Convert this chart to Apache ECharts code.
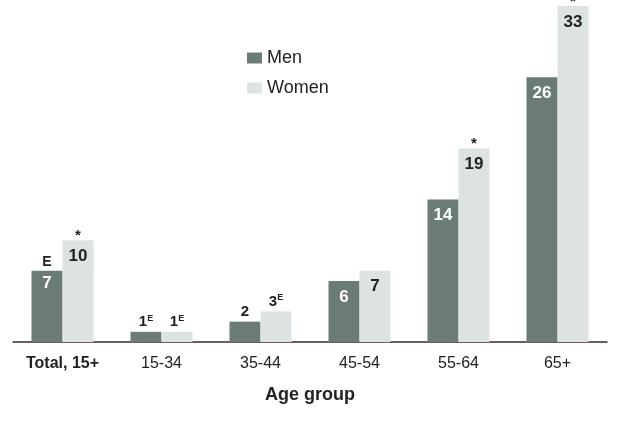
<!DOCTYPE html>
<html><head><meta charset="utf-8">
<script src="https://cdn.jsdelivr.net/npm/echarts@6/dist/echarts.min.js"></script>
<style>html,body{margin:0;padding:0;background:#fff}#c{width:620px;height:430px}</style>
</head><body><div id="c"></div>
<script>
const categories = ['Total, 15+', '15-34', '35-44', '45-54', '55-64', '65+'];
const menValues = [7, 1, 2, 6, 14, 26];
const womenValues = [10, 1, 3, 7, 19, 33];
// quality flags: 'E' = use with caution, '*' = significantly different from men
const menFlags = ['E', 'E', '', '', '', ''];
const womenFlags = ['*', 'E', 'E', '', '*', '*'];

const FONT = "'Liberation Sans', Arial, sans-serif";
const MEN_COLOR = '#6b7b78';
const WOMEN_COLOR = '#dde3e3';
const DARK = '#222';
const SMALL = 4;

const rich = {
  w: { color: '#fff', fontSize: 17, fontWeight: 'bold', lineHeight: 22, fontFamily: FONT },
  d: { color: DARK, fontSize: 17, fontWeight: 'bold', lineHeight: 22, fontFamily: FONT },
  n: { color: DARK, fontSize: 14, fontWeight: 'bold', lineHeight: 22, fontFamily: FONT },
  st: { color: DARK, fontSize: 15, fontWeight: 'bold', lineHeight: 22, padding: [3, 0, 0, 0], fontFamily: FONT },
  sv: { color: DARK, fontSize: 15, fontWeight: 'bold', lineHeight: 16, fontFamily: FONT },
  s: { color: DARK, fontSize: 9, fontWeight: 'bold', lineHeight: 10, verticalAlign: 'top', fontFamily: FONT }
};

function buildItems(values, flags, vs) {
  return values.map((v, i) => {
    const f = flags[i];
    if (v < SMALL) {
      const txt = '{sv|' + v + '}' + (f ? '{s|' + f + '}' : '');
      return { value: v, label: { show: true, position: 'top', distance: 2, formatter: txt, rich } };
    }
    if (f) {
      const top = f === '*' ? '{st|*}' : '{n|E}';
      return { value: v, label: { show: true, position: 'insideTop', distance: 0, offset: [0, f === '*' ? -17 : -20], formatter: top + '\n{' + vs + '|' + v + '}', rich } };
    }
    return { value: v, label: { show: true, position: 'insideTop', distance: 5, formatter: '{' + vs + '|' + v + '}', rich } };
  });
}

const chart = echarts.init(document.getElementById('c'), null, { renderer: 'canvas' });
chart.setOption({
  animation: false,
  textStyle: { fontFamily: FONT },
  legend: {
    orient: 'vertical', left: 242, top: 44, itemGap: 12,
    itemWidth: 15, itemHeight: 11, icon: 'rect',
    textStyle: { fontSize: 18, color: DARK, fontFamily: FONT },
    data: ['Men', 'Women']
  },
  grid: { left: 13, right: 13, top: 0, bottom: 88 },
  xAxis: {
    type: 'category', data: categories,
    axisLine: { lineStyle: { color: '#3d2b26', width: 1.5 } },
    axisTick: { show: false },
    axisLabel: {
      interval: 0,
      fontSize: 16, color: DARK, margin: 14, fontFamily: FONT,
      formatter: (v, i) => i === 0 ? '{b|' + v + '}' : v,
      rich: { b: { fontWeight: 'bold', fontSize: 16, color: DARK, fontFamily: FONT } }
    },
    name: 'Age group', nameLocation: 'middle', nameGap: 44,
    nameTextStyle: { fontWeight: 'bold', fontSize: 18, color: DARK, fontFamily: FONT }
  },
  yAxis: { type: 'value', min: 0, max: 33.6, show: false },
  series: [
    { name: 'Men', type: 'bar', barWidth: 31, barGap: '0%', itemStyle: { color: MEN_COLOR }, data: buildItems(menValues, menFlags, 'w') },
    { name: 'Women', type: 'bar', barWidth: 31, barGap: '0%', itemStyle: { color: WOMEN_COLOR }, data: buildItems(womenValues, womenFlags, 'd') }
  ]
});
</script></body></html>
